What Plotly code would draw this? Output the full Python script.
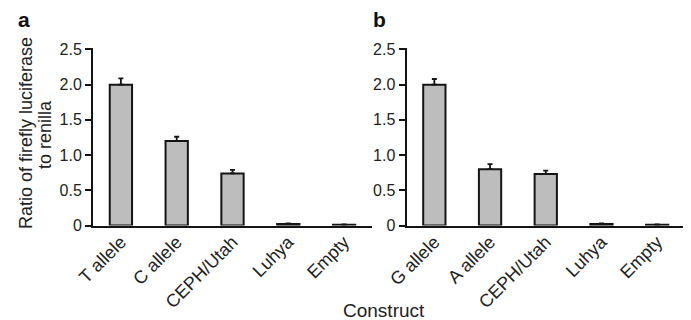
import plotly.graph_objects as go

cats_a = ["T allele", "C allele", "CEPH/Utah", "Luhya", "Empty"]
vals_a = [2.00, 1.20, 0.74, 0.02, 0.01]
err_a = [0.09, 0.06, 0.05, 0.01, 0.005]

cats_b = ["G allele", "A allele", "CEPH/Utah", "Luhya", "Empty"]
vals_b = [2.00, 0.80, 0.73, 0.02, 0.01]
err_b = [0.08, 0.07, 0.05, 0.01, 0.005]

ytick_vals = [0, 0.5, 1.0, 1.5, 2.0, 2.5]
ytick_text = ["0", "0.5", "1.0", "1.5", "2.0", "2.5"]

FONT = "Liberation Sans, Arial, sans-serif"
# page body has an 8px margin; work in screen px and shift
OFF = 8
W, H = 691 - OFF, 320 - OFF

def px(x):
    return (x - OFF) / W

def py(y):
    return 1 - (y - OFF) / H

def bar(cats, vals, errs, xa, ya):
    return go.Bar(
        x=cats, y=vals, xaxis=xa, yaxis=ya, width=0.4,
        marker=dict(color="#bdbdbd", line=dict(color="#141414", width=2)),
        error_y=dict(type="data", symmetric=False, array=errs,
                     arrayminus=[0] * len(errs), color="#141414",
                     thickness=1.8, width=2.5),
        showlegend=False, hoverinfo="skip",
    )

fig = go.Figure()
fig.add_trace(bar(cats_a, vals_a, err_a, "x", "y"))
fig.add_trace(bar(cats_b, vals_b, err_b, "x2", "y2"))

xcommon = dict(showline=True, linecolor="#141414", linewidth=2, ticks="",
               tickangle=-45, tickfont=dict(family=FONT, size=18, color="#222"),
               ticklabelstandoff=-3,
               range=[-0.5, 4.5], showgrid=False, zeroline=False, automargin=False,
               fixedrange=True)
ycommon = dict(showline=True, linecolor="#141414", linewidth=2, ticks="outside",
               ticklen=6, tickwidth=2, tickcolor="#141414",
               tickvals=ytick_vals, ticktext=ytick_text,
               tickfont=dict(family=FONT, size=16, color="#222"),
               range=[0, 2.52], showgrid=False, zeroline=False, automargin=False,
               domain=[py(225.5), py(48.0)], fixedrange=True)

fig.update_layout(
    width=W, height=H,
    margin=dict(l=0, r=0, t=0, b=0),
    paper_bgcolor="white", plot_bgcolor="white",
    xaxis=dict(domain=[px(93), px(372)], anchor="y", **xcommon),
    yaxis=dict(anchor="x", **ycommon),
    xaxis2=dict(domain=[px(406.5), px(685)], anchor="y2", **xcommon),
    yaxis2=dict(anchor="x2", **ycommon),
)

annos = [
    dict(text="<b>a</b>", x=px(16), y=py(19.5), xanchor="left", yanchor="middle",
         font=dict(family=FONT, size=21, color="#111")),
    dict(text="<b>b</b>", x=px(371), y=py(19.5), xanchor="left", yanchor="middle",
         font=dict(family=FONT, size=21, color="#111")),
    dict(text="Ratio of firefly luciferase", x=px(26), y=py(133),
         xanchor="center", yanchor="middle", textangle=-90,
         font=dict(family=FONT, size=18, color="#222")),
    dict(text="to renilla", x=px(45), y=py(135),
         xanchor="center", yanchor="middle", textangle=-90,
         font=dict(family=FONT, size=18, color="#222")),
    dict(text="Construct", x=px(384), y=py(310), xanchor="center", yanchor="middle",
         font=dict(family=FONT, size=19, color="#222")),
]
for a in annos:
    a.update(xref="paper", yref="paper", showarrow=False)
fig.update_layout(annotations=annos)

fig.write_html("out.html")
